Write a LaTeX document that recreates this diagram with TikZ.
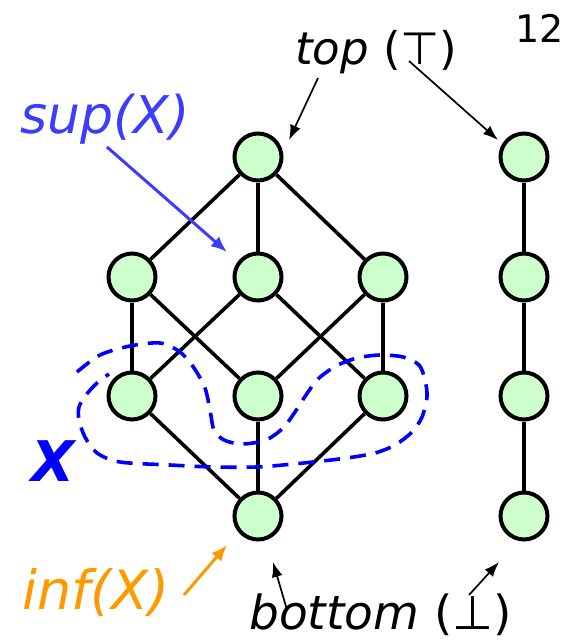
\documentclass[tikz,border=0pt]{standalone}
\usepackage{fontspec}
\setmainfont{DejaVu Sans}
\usetikzlibrary{arrows.meta}
\definecolor{nodefill}{HTML}{CCFFCC}
\definecolor{supblue}{HTML}{3C3CFF}
\definecolor{setblue}{HTML}{0000FF}
\definecolor{inforange}{HTML}{FF9900}
\begin{document}
\begin{tikzpicture}[x=1pt,y=-1pt,
  elem/.style={circle,draw=black,fill=nodefill,line width=4pt,minimum size=47pt,inner sep=0pt},
  edge/.style={line width=3.6pt},
  ptr/.style={line width=1.7pt,-{Latex[length=15pt,width=11pt]}},
  bigptr/.style={line width=3pt,-{Latex[length=16pt,width=13pt]}},
  lbl/.style={inner sep=0pt,font=\fontsize{45}{50}\selectfont},
  blob/.style={draw=setblue,line width=3.6pt,dash pattern=on 16pt off 10pt}]
\useasboundingbox (0,0) rectangle (570,642);
% lattice
\node[elem] (t)  at (258,157) {};
\node[elem] (ml) at (132,277) {};
\node[elem] (mm) at (258,277) {};
\node[elem] (mr) at (383,277) {};
\node[elem] (ll) at (132,396) {};
\node[elem] (lm) at (258,396) {};
\node[elem] (lr) at (383,396) {};
\node[elem] (b)  at (258,516) {};
% chain
\node[elem] (c1) at (524,157) {};
\node[elem] (c2) at (524,277) {};
\node[elem] (c3) at (524,396) {};
\node[elem] (c4) at (524,516) {};
\foreach \u/\v in {t/ml,t/mm,t/mr,ml/ll,ml/lm,mm/ll,mm/lr,mr/lm,mr/lr,ll/b,lm/b,lr/b,c1/c2,c2/c3,c3/c4}
  \draw[edge] (\u) -- (\v);
% set X
\draw[blob] plot[smooth] coordinates {(77,372) (100,355) (130,346) (160,343) (180,352) (194,368) (205,388) (210,410) (214,430) (224,440) (242,444) (266,440) (283,428) (295,412) (306,395) (318,379) (336,366) (357,358) (380,355) (403,357) (419,365) (425,380) (427,397) (422,417) (412,432) (395,445) (375,453) (347,458) (313,462) (283,465) (257,467) (213,467) (170,465) (120,462) (97,453) (85,437) (79,420) (79,407) (86,395) (97,383) (109,374)};
\node[lbl,text=setblue,font=\fontsize{56}{60}\selectfont\bfseries\itshape] (xl) at (53,461) {X};
% labels
\node[lbl,anchor=base west] (top) at (295,64) {\itshape top\upshape\ (⊤)};
\node[lbl,anchor=base west,font=\fontsize{38}{42}\selectfont] (num) at (515,43) {12};
\node[lbl,anchor=base west,text=supblue,font=\fontsize{52}{56}\selectfont\itshape] (sup) at (20,133) {sup(X)};
\node[lbl,anchor=base west,text=inforange,font=\fontsize{54}{58}\selectfont\itshape] (inf) at (22,609) {inf(X)};
\node[lbl,anchor=base west,font=\fontsize{47}{52}\selectfont] (bot) at (249,629) {\itshape bottom\upshape\ (⊥)};
% pointer coordinates
\coordinate (ta1) at (318,78);  \coordinate (ta1e) at (289,140);
\coordinate (ta2) at (409,61);  \coordinate (ta2e) at (498,140);
\coordinate (sa) at (107,147);  \coordinate (sae) at (227,252);
\coordinate (ia) at (184,595);  \coordinate (iae) at (227,545);
\coordinate (ba1) at (287,610); \coordinate (ba1e) at (273,562);
\coordinate (ba2) at (469,595); \coordinate (ba2e) at (499,562);
\draw[ptr] (ta1) -- (ta1e);
\draw[ptr] (ta2) -- (ta2e);
\draw[ptr] (ba1) -- (ba1e);
\draw[ptr] (ba2) -- (ba2e);
\draw[bigptr,supblue] (sa) -- (sae);
\draw[bigptr,inforange] (ia) -- (iae);
\end{tikzpicture}
\end{document}
